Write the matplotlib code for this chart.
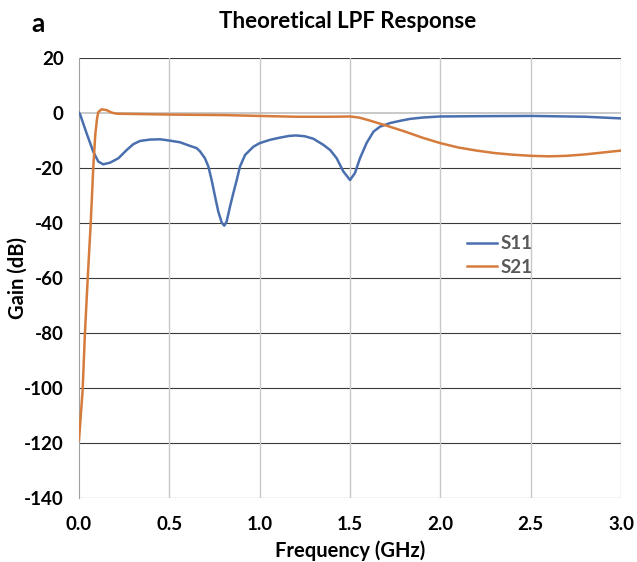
import matplotlib.pyplot as plt

# frequency (GHz) / gain (dB)
s11_f = [0, 0.006, 0.042, 0.079, 0.107, 0.134, 0.172, 0.218, 0.264, 0.3, 0.338, 0.393, 0.45,
         0.504, 0.56, 0.614, 0.651, 0.67, 0.697, 0.716, 0.734, 0.753, 0.771, 0.79, 0.804,
         0.817, 0.836, 0.854, 0.873, 0.891, 0.919, 0.965, 1.0, 1.057, 1.112, 1.16, 1.2, 1.25,
         1.297, 1.352, 1.39, 1.426, 1.463, 1.5, 1.527, 1.555, 1.592, 1.63, 1.666, 1.721, 1.776,
         1.83, 1.9, 2.0, 2.2, 2.5, 2.8, 3.0]
s11_db = [0, -0.5, -7.4, -14.1, -17.7, -18.7, -18.1, -16.5, -13.5, -11.4, -10.2, -9.7, -9.6,
          -10.1, -10.7, -12.0, -12.8, -14.0, -16.5, -19.5, -24.4, -30.4, -35.9, -39.9, -41,
          -39.5, -34, -29.2, -24.4, -19.5, -15.3, -12.3, -11, -9.8, -9.0, -8.4, -8.2, -8.5,
          -9.4, -11.6, -13.5, -16.5, -21.3, -24.4, -21.9, -16.5, -10.9, -6.8, -5.0, -3.7, -2.9,
          -2.2, -1.7, -1.3, -1.2, -1.1, -1.4, -2.0]

s21_f = [0, 0.02, 0.033, 0.05, 0.065, 0.079, 0.09, 0.1, 0.107, 0.125, 0.153, 0.181, 0.209,
         0.5, 0.8, 1.0, 1.2, 1.4, 1.5, 1.55, 1.6, 1.7, 1.8, 1.9, 2.0, 2.1, 2.2, 2.3, 2.4,
         2.5, 2.6, 2.7, 2.8, 2.9, 3.0]
s21_db = [-119, -101, -80, -58, -40, -20, -8, -2, 0.3, 1.3, 1.0, 0.1, -0.3,
          -0.6, -0.8, -1.1, -1.4, -1.4, -1.3, -1.7, -2.6, -4.6, -6.7, -9, -11, -12.6, -13.7, -14.6, -15.2,
          -15.6, -15.8, -15.6, -15.1, -14.4, -13.7]

x_ticks = [0.0, 0.5, 1.0, 1.5, 2.0, 2.5, 3.0]
y_ticks = [20, 0, -20, -40, -60, -80, -100, -120, -140]

plt.rcParams['font.family'] = ['Lato', 'DejaVu Sans']
plt.rcParams['font.weight'] = 'bold'
plt.rcParams['axes.unicode_minus'] = False

fig = plt.figure(figsize=(6.37, 5.62), dpi=100)
ax = fig.add_axes([0.124, 0.114, 0.851, 0.783])

for y in y_ticks:
    if y == 0:
        continue
    ax.axhline(y, color='#3a3a3a', lw=0.8, zorder=1)
for x in x_ticks[1:]:
    ax.axvline(x, color='#c8c8c8', lw=1.0, zorder=1)
ax.axhline(0, color='#c0c0c0', lw=1.2, zorder=1)

ax.plot(s11_f, s11_db, color='#4a6fae', lw=1.8, label='S11', zorder=3)
ax.plot(s21_f, s21_db, color='#d57c3d', lw=1.8, label='S21', zorder=3)

ax.set_xlim(0, 3.0)
ax.set_ylim(-140, 20)
ax.set_xticks(x_ticks)
ax.set_xticklabels([f"{v:.1f}" for v in x_ticks])
ax.set_yticks(y_ticks)
ax.tick_params(length=0, labelsize=13.5)
ax.tick_params(axis='x', pad=13)
ax.tick_params(axis='y', pad=11)
for s in ['top', 'right', 'bottom']:
    ax.spines[s].set_visible(False)
ax.spines['left'].set_color('#a0a0a0')

ax.set_xlabel("Frequency (GHz)", fontsize=14.5, fontweight='bold', va='center')
ax.set_ylabel("Gain (dB)", fontsize=14.5, fontweight='bold', va='center')
ax.xaxis.set_label_coords(0.5, -0.12)
ax.yaxis.set_label_coords(-0.113, 0.5)
fig.text(0.545, 0.962, "Theoretical LPF Response", ha='center', va='center',
         fontsize=16, fontweight='bold')
fig.text(0.049, 0.957, "a", ha='left', va='center', fontsize=19, fontweight='bold')

leg = ax.legend(loc='upper left', bbox_to_anchor=(0.685, 0.635), frameon=False,
                fontsize=13.5, handlelength=1.6, handletextpad=0.2, labelspacing=0.35)
for t in leg.get_texts():
    t.set_color('#595959')

fig.savefig("out.png", dpi=100)
